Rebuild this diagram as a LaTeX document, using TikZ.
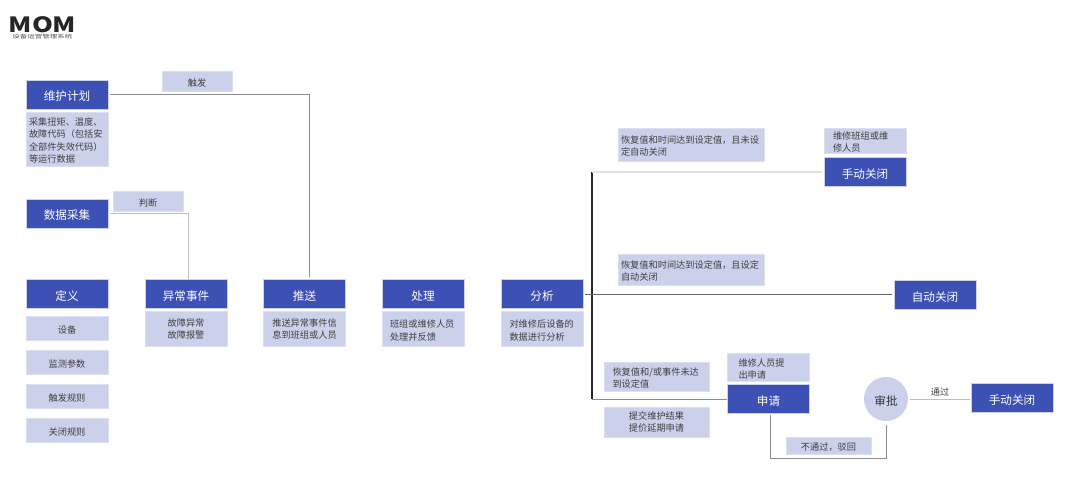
\documentclass[tikz,border=0pt]{standalone}
\usepackage{fontspec}
\setmainfont{Noto Sans CJK SC}
\usepackage{xcolor}
\usetikzlibrary{positioning,calc}
\definecolor{headblue}{HTML}{3D50B4}
\definecolor{capblue}{HTML}{CBD1EA}
\tikzset{
  headbox/.style={fill=headblue,draw=capblue,line width=.5pt,text=white,minimum width=82pt,minimum height=29pt,inner sep=0pt,font=\fontsize{11.6}{14}\selectfont,execute at begin node={\rule{0pt}{13pt}}},
  capbox/.style={fill=capblue,draw=capblue!70!white,line width=.5pt,text=black!75,minimum width=82pt,inner sep=0pt,align=center,font=\fontsize{9.2}{12.3}\selectfont,execute at begin node={\rule{0pt}{11pt}}},
  wire/.style={line width=.8pt,draw=black!45},
}
\begin{document}
\begin{tikzpicture}[x=1pt,y=-1pt,node distance=2.5pt]
  \useasboundingbox (0,0) rectangle (1080,483);
  % logo
  \node[inner sep=0pt,xscale=1.27,font=\fontsize{21}{21}\bfseries\selectfont,text=black!85] (logo) at (42.5,25) {MOM};
  \node[inner sep=0pt,xscale=1.5,font=\fontsize{5}{5}\selectfont,text=black!70] (logosub) at (42.5,37) {设备运营管理系统};
  % left column
  \node[headbox] (plan) at (67,94.5) {维护计划};
  \node[capbox,minimum height=54pt,align=left,below=of plan,text width=76pt] (plancap) {采集扭矩、温度、\\故障代码（包括安\\全部件失效代码）\\等运行数据};
  \node[headbox] (collect) at (67,213.5) {数据采集};
  \node[headbox] (define) at (67,294) {定义};
  \node[capbox,minimum height=24pt] (device) at (67,328) {设备};
  \node[capbox,minimum height=24pt] (param) at (67,362) {监测参数};
  \node[capbox,minimum height=24pt] (trigrule) at (67,396) {触发规则};
  \node[capbox,minimum height=24pt] (closerule) at (67,430) {关闭规则};
  % main row
  \node[headbox] (event) at (186,294) {异常事件};
  \node[capbox,minimum height=35pt,below=of event] (eventcap) {故障异常\\故障报警};
  \node[headbox] (push) at (304.5,294) {推送};
  \node[capbox,minimum height=35pt,below=of push] (pushcap) {推送异常事件信\\息到班组或人员};
  \node[headbox] (handle) at (423,294) {处理};
  \node[capbox,minimum height=35pt,text width=66pt,align=left,below=of handle] (handlecap) {班组或维修人员\\处理并反馈};
  \node[headbox] (analyse) at (542,294) {分析};
  \node[capbox,minimum height=35pt,text width=65pt,align=left,below=of analyse] (analysecap) {对维修后设备的\\数据进行分析};
  % right side
  \node[headbox] (manual) at (865,172) {手动关闭};
  \node[capbox,minimum height=25pt,text width=64pt,align=left,above=4pt of manual] (manualcap) {维修班组或维\\修人员};
  \node[headbox] (auto) at (935,295) {自动关闭};
  \node[headbox] (apply) at (768.5,399) {申请};
  \node[capbox,minimum height=28pt,text width=60pt,align=left,above=of apply] (applycap) {维修人员提\\出申请};
  \node[circle,fill=capblue,minimum size=44pt,inner sep=0pt,font=\fontsize{11.6}{14}\selectfont,text=black!80,execute at begin node={\rule{0pt}{13pt}}] (approve) at (886,399) {审批};
  \node[headbox] (manualb) at (1012,398) {手动关闭};
  % labels
  \node[capbox,minimum width=70pt,minimum height=20pt] (trigger) at (197,81) {触发};
  \node[capbox,minimum width=70pt,minimum height=20pt] (judge) at (148,201) {判断};
  \node[capbox,minimum width=146pt,minimum height=33pt,text width=140pt,align=left] (condone) at (691,144.5) {恢复值和时间达到设定值，且未设\\定自动关闭};
  \node[capbox,minimum width=146pt,minimum height=31pt,text width=140pt,align=left] (condtwo) at (691,269.5) {恢复值和时间达到设定值，且设定\\自动关闭};
  \node[capbox,minimum width=105pt,minimum height=29pt,text width=88pt,align=left] (condthree) at (656.5,376.5) {恢复值和/或事件未达\\到设定值};
  \node[capbox,minimum width=105pt,minimum height=30pt] (submit) at (656.5,422) {提交维护结果\\提价延期申请};
  \node[capbox,minimum width=85pt,minimum height=17pt] (reject) at (828.5,445.5) {不通过，驳回};
  \node[inner sep=0pt,font=\fontsize{9.2}{12}\selectfont,text=black!75] (pass) at (940,391.5) {通过};
  % connectors
  \coordinate (bus) at (592,172);
  \coordinate (busend) at (592,399);
  \coordinate (retcorner) at (770,458);
  \draw[wire] ($(plan.east)+(2,0)$) -| ($(push.north)+(4.5,-2)$);
  \draw[wire,draw=black!25] ($(collect.east)+(2,0)$) -| ($(event.north)+(2,0)$);
  \draw[line width=1.3pt,draw=black!85] (bus) -- (busend);
  \draw[line width=1.3pt,draw=black!12] (bus) -- ($(manual.west)+(-2,0)$);
  \draw[wire,draw=black!60] ($(analyse.east)+(2,0)$) -- ($(analyse.east-|auto.west)+(-2,0)$);
  \draw[wire,line width=1pt] (busend) -- (apply.west);
  \draw[wire] ($(apply.south)+(1.5,1)$) -- (retcorner) -| ($(approve.south)+(0,4)$);
  \draw[wire,draw=black!25] ($(approve.east)+(2,0)$) -- ($(approve.east-|manualb.west)+(-1,0)$);
\end{tikzpicture}
\end{document}
